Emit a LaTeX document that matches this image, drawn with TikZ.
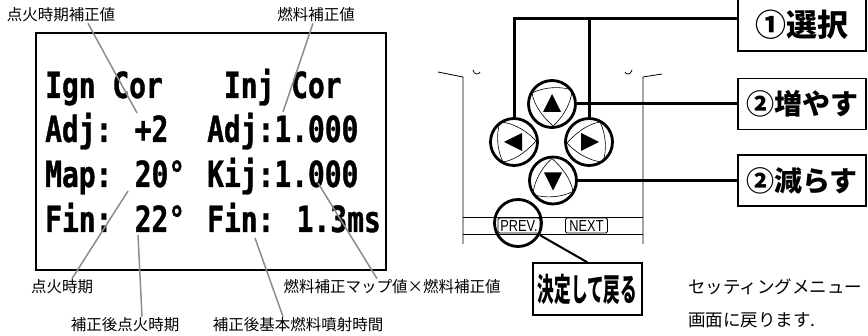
\documentclass[tikz,border=0pt]{standalone}
\usepackage{fontspec}
\newfontfamily\jp{Noto Sans CJK JP}
\newfontfamily\jpcond[FakeStretch=0.52]{Noto Sans CJK JP}
\newfontfamily\lcd[FakeStretch=0.775,FakeBold=1]{DejaVu Sans Mono Bold}
\newfontfamily\keyfont[FakeStretch=0.8]{Liberation Sans}
\usetikzlibrary{calc}

\tikzset{
  lead/.style={draw=black!45, line width=1.5pt},
  lcdtxt/.style={anchor=base west, inner sep=0pt, font=\lcd\fontsize{36}{36}\selectfont},
  lbl/.style={inner sep=1pt, font=\jp\fontsize{15.5}{15.5}\selectfont},
  keybtn/.style={circle, draw, line width=2.8pt, minimum size=47pt, inner sep=0pt},
  cmdbox/.style={draw, line width=1.2pt, inner sep=0pt, minimum width=128pt, minimum height=51pt, font=\jp\bfseries\fontsize{28}{28}\selectfont},
  bracket/.style={line width=3pt},
  outline/.style={line width=0.8pt},
  softkey/.style={draw, rounded corners=1.5pt, line width=0.8pt, inner sep=0.5pt, minimum width=42pt, minimum height=15pt, font=\keyfont\fontsize{16}{16}\selectfont},
}

\begin{document}
\begin{tikzpicture}[x=1pt,y=-1pt]
    \useasboundingbox (0,0) rectangle (868,336);

    % Ecran LCD
    \draw[line width=1.3pt] (36,33) rectangle (386,270);
    \node[lcdtxt] (ign) at (45,98) {Ign Cor};
    \node[lcdtxt] (ignadj) at (45,142) {Adj: +2};
    \node[lcdtxt] (ignmap) at (45,187) {Map: 20°};
    \node[lcdtxt] (ignfin) at (45,232) {Fin: 22°};
    \node[lcdtxt] (inj) at (223.8,98) {Inj Cor};
    \node[lcdtxt] (injadj) at (207,142) {Adj:1.000};
    \node[lcdtxt] (injkij) at (207,187) {Kij:1.000};
    \node[lcdtxt] (injfin) at (207,232) {Fin: 1.3ms};

    % Etiquettes
    \node[lbl] (lIgnAdj) at (61,15) {点火時期補正値};
    \node[lbl] (lInjAdj) at (316,15) {燃料補正値};
    \node[lbl] (lIgn) at (62,287) {点火時期};
    \node[lbl] (lIgnFin) at (125,325) {補正後点火時期};
    \node[lbl] (lInjFin) at (298,325) {補正後基本燃料噴射時間};
    \node[lbl] (lKij) at (392,287) {燃料補正マップ値×燃料補正値};

    % Traits de rappel
    \coordinate (pIgnAdj) at (137,113);
    \coordinate (pInjAdj) at (283,112);
    \coordinate (pIgn) at (128,191);
    \coordinate (pIgnFin) at (138,235);
    \coordinate (pInjFin) at (255,238);
    \coordinate (pKij) at (318,183);
    \draw[lead] (lIgnAdj.south -| 88,0) -- (pIgnAdj);
    \draw[lead] (lInjAdj.south -| 313,0) -- (pInjAdj);
    \draw[lead] (lIgn.north -| 72,0) -- (pIgn);
    \draw[lead] (lIgnFin.north -| 142,0) -- (pIgnFin);
    \draw[lead] (lInjFin.north -| 283,0) -- (pInjFin);
    \draw[lead] (lKij.north -| 377,0) -- (pKij);

    % Boitier
    \draw[outline] (438,72) -- (463,77) -- (463,244);
    \draw[outline] (662,74) -- (643,77) -- (643,244);
    \draw[outline] (463,217) -- (643,217);
    \draw[outline] (463,234) -- (643,234);
    \draw[outline] (473,70) .. controls (474,75) and (479,75) .. (480,72);
    \draw[outline] (625,72) .. controls (626,75) and (631,75) .. (632,70);
    \node[softkey] (prev) at (519,225.5) {PREV.};
    \node[softkey] (next) at (586.5,225.5) {NEXT};

    % Touches
    \node[keybtn] (kup) at (552,104) {};
    \node[keybtn] (kleft) at (514,142) {};
    \node[keybtn] (kright) at (589,142) {};
    \node[keybtn] (kdown) at (553,180.5) {};
    \node[keybtn] (kprev) at (518,223) {};
    \foreach \k/\a in {kup/0, kleft/90, kdown/180, kright/-90} {
        \begin{scope}[shift={(\k)}, rotate=\a]
            \draw[line width=0.6pt] (-20,-11) .. controls (-8,-17) and (8,-18) .. (20,-14)
                .. controls (19,2) and (8,16) .. (1,22) .. controls (-8,14) and (-18,2) .. cycle;
            \fill (0,-10) -- (-9,8) -- (9,8) -- cycle;
        \end{scope}
    }

    % Commandes
    \node[cmdbox, minimum height=52pt, font=\jp\bfseries\fontsize{31}{31}\selectfont] (sel) at (802,25) {①選択};
    \node[cmdbox] (inc) at (802,104) {②増やす};
    \node[cmdbox] (dec) at (802,180.5) {②減らす};
    \node[draw, line width=1.2pt, inner sep=0pt, minimum width=109pt, minimum height=52pt,
          font=\jpcond\bfseries\fontsize{32}{32}\selectfont] (ret) at (587.5,289) {決定して戻る};
    \coordinate (jsel) at (sel.west |- 0,19);
    \draw[bracket] (kleft.north) |- (jsel);
    \draw[bracket] (kright.north) -- (kright.north |- jsel);
    \draw[bracket] (kup.east) -- (kup.east -| inc.west);
    \draw[bracket] (kdown.east) -- (kdown.east -| dec.west);
    \draw[line width=2pt] (kprev.-29) -- (ret.north);

    \node[anchor=west, align=left, inner sep=0pt, font=\jp\fontsize{17.5}{33}\selectfont] (note) at (688,303)
        {セッティングメニュー\\画面に戻ります.};
\end{tikzpicture}
\end{document}
